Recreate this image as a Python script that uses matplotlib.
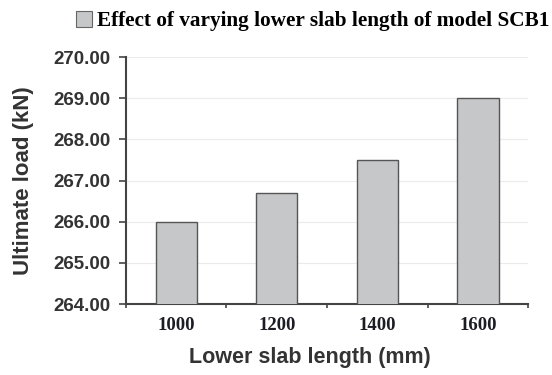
import matplotlib
matplotlib.use("Agg")
import matplotlib.pyplot as plt
from matplotlib.patches import Patch

lengths = ["1000", "1200", "1400", "1600"]
loads = [266.0, 266.7, 267.5, 269.0]
y_ticks = [264, 265, 266, 267, 268, 269, 270]
series_name = "Effect of varying lower slab length of model SCB1"

fig = plt.figure(figsize=(5.52, 3.75), dpi=100)
ax = fig.add_axes([0.228, 0.189, 0.729, 0.659])

x = range(len(lengths))
ax.bar(x, loads, width=0.41, bottom=0, color="#c6c7c9", edgecolor="#555555", linewidth=1.0, zorder=3)

ax.set_ylim(264, 270)
ax.set_xlim(-0.5, len(lengths) - 0.5)
ax.set_yticks(y_ticks)
ax.set_yticklabels([f"{v:.2f}" for v in y_ticks], fontfamily="Liberation Sans", fontweight="bold",
                   fontsize=13.5, color="#333333")
ax.set_xticks(list(x))
ax.set_xticklabels(lengths, fontfamily="Liberation Serif", fontweight="bold", fontsize=13.5, color="#1c1c24")
ax.set_xticks([i + 0.5 for i in range(-1, len(lengths))], minor=True)
ax.tick_params(axis="x", which="major", length=0, pad=9)
ax.tick_params(axis="x", which="minor", length=3, width=1.2, color="#444444")
ax.tick_params(axis="y", length=5, width=1.2, color="#444444", pad=6)

ax.grid(axis="y", color="#ebebeb", linewidth=0.8, zorder=0)
for side in ("top", "right"):
    ax.spines[side].set_visible(False)
for side in ("left", "bottom"):
    ax.spines[side].set_color("#444444")
    ax.spines[side].set_linewidth(1.5)

ax.set_ylabel("Ultimate load (kN)", fontfamily="Liberation Sans", fontweight="bold", fontsize=16,
              color="#333333", labelpad=14)
ax.set_xlabel("Lower slab length (mm)", fontfamily="Liberation Sans", fontweight="bold", fontsize=15.5,
              color="#333333")
ax.xaxis.set_label_coords(0.458, -0.175)

handle = Patch(facecolor="#c6c7c9", edgecolor="#666666", linewidth=0.8)
fig.legend([handle], [series_name], loc="upper left", bbox_to_anchor=(0.118, 1.0), frameon=False,
           prop={"family": "Liberation Serif", "weight": "bold", "size": 15.3},
           handlelength=0.78, handleheight=0.78, handletextpad=0.2, borderaxespad=0.2, borderpad=0.3)

fig.savefig("out.png", dpi=100)
